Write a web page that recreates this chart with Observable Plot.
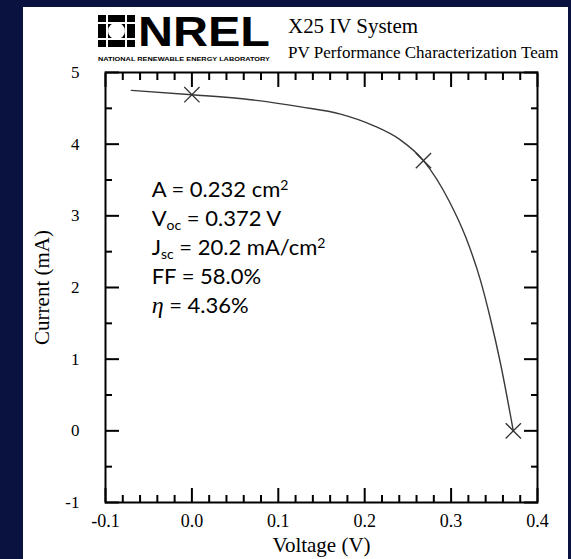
<!DOCTYPE html>
<html><head><meta charset="utf-8">
<script src="https://cdn.jsdelivr.net/npm/d3@7"></script>
<script src="https://cdn.jsdelivr.net/npm/@observablehq/plot@0.6"></script>
<style>
html,body{margin:0;padding:0;background:#0a1340;}
#wrap{position:relative;width:571px;height:559px;overflow:hidden;}
#panel{position:absolute;left:23px;top:7px;width:545px;height:552px;background:#fff;}
#chart{position:absolute;left:0;top:0;}
</style></head><body>
<div id="wrap"><div id="panel"></div><div id="chart"></div></div>
<script>
// I-V curve (Voltage in V, Current in mA)
const voltage = [-0.07, 0.0, 0.068, 0.126, 0.172, 0.21, 0.24, 0.268, 0.298, 0.317, 0.334, 0.346, 0.357, 0.372];
const current = [4.75, 4.69, 4.62, 4.52, 4.42, 4.26, 4.07, 3.77, 3.20, 2.70, 2.10, 1.54, 0.95, 0.0];
// marked points: Isc, max power point, Voc
const markerVoltage = [0.0, 0.268, 0.372];
const markerCurrent = [4.69, 3.77, 0.0];
// ticks
const xMajorTicks = [-0.1, 0.0, 0.1, 0.2, 0.3, 0.4];
const xTickLabels = ["-0.1", "0.0", "0.1", "0.2", "0.3", "0.4"];
const xMinorTicks = [-0.08,-0.06,-0.04,-0.02,0.02,0.04,0.06,0.08,0.12,0.14,0.16,0.18,0.22,0.24,0.26,0.28,0.32,0.34,0.36,0.38];
const yMajorTicks = [-1, 0, 1, 2, 3, 4, 5];
const yTickLabels = ["-1", "0", "1", "2", "3", "4", "5"];
const yMinorTicks = [-0.5, 0.5, 1.5, 2.5, 3.5, 4.5];
// texts
const xLabel = "Voltage (V)";
const yLabel = "Current (mA)";
const titleLine1 = "X25 IV System";
const titleLine2 = "PV Performance Characterization Team";
const logoText = "NREL";
const logoSub = "NATIONAL RENEWABLE ENERGY LABORATORY";
const annotation = [
  [["A = 0.232 cm",""],["2","sup"]],
  [["V",""],["oc","sub"],[" = 0.372 V",""]],
  [["J",""],["sc","sub"],[" = 20.2 mA/cm",""],["2","sup"]],
  [["FF = 58.0%",""]],
  [["η","eta"],[" = 4.36%",""]]
];
const annotationAnchor = {v: -0.046, i: 3.26};

const serif = "'Liberation Serif','Times New Roman',serif";
const curveData = voltage.map((v, k) => ({v, i: current[k]}));
const markerData = markerVoltage.map((v, k) => ({v, i: markerCurrent[k]}));
const xl = d => xTickLabels[xMajorTicks.indexOf(d)];
const yl = d => yTickLabels[yMajorTicks.indexOf(d)];

const plot = Plot.plot({
  width: 571, height: 559,
  marginLeft: 105, marginRight: 34, marginTop: 72, marginBottom: 57,
  style: {background: "transparent", fontFamily: serif, color: "black", overflow: "visible"},
  x: {domain: [-0.1, 0.4]},
  y: {domain: [-1, 5]},
  marks: [
    Plot.line(curveData, {x: "v", y: "i", curve: "monotone-x", stroke: "#3a3a3a", strokeWidth: 1.4}),
    Plot.dot(markerData, {x: "v", y: "i", symbol: "times", r: 7, stroke: "#333", strokeWidth: 1.3}),
    // inward ticks
    Plot.axisX({anchor: "bottom", ticks: xMinorTicks, tickSize: -7, fill: "none", label: null, strokeWidth: 2}),
    Plot.axisX({anchor: "bottom", ticks: xMajorTicks, tickSize: -14, fill: "none", label: null, strokeWidth: 2}),
    Plot.axisX({anchor: "top", ticks: xMinorTicks, tickSize: -7, fill: "none", label: null, strokeWidth: 2}),
    Plot.axisX({anchor: "top", ticks: xMajorTicks, tickSize: -14, fill: "none", label: null, strokeWidth: 2}),
    Plot.axisY({anchor: "left", ticks: yMinorTicks, tickSize: -7, fill: "none", label: null, strokeWidth: 2}),
    Plot.axisY({anchor: "left", ticks: yMajorTicks, tickSize: -14, fill: "none", label: null, strokeWidth: 2}),
    Plot.axisY({anchor: "right", ticks: yMinorTicks, tickSize: -7, fill: "none", label: null, strokeWidth: 2}),
    Plot.axisY({anchor: "right", ticks: yMajorTicks, tickSize: -14, fill: "none", label: null, strokeWidth: 2}),
    // labels
    Plot.axisX({anchor: "bottom", ticks: xMajorTicks, tickSize: 0, tickPadding: 12, tickFormat: xl, fontSize: 18, label: null}),
    Plot.axisY({anchor: "left", ticks: yMajorTicks, tickSize: 0, tickPadding: 26, tickFormat: yl, fontSize: 17, label: null}),
    Plot.text([xLabel], {frameAnchor: "bottom", dy: 43, lineAnchor: "middle", textAnchor: "middle", fontSize: 21, fill: "black"}),
    Plot.text([yLabel], {frameAnchor: "left", dx: -63, rotate: -90, textAnchor: "middle", lineAnchor: "middle", fontSize: 21, fill: "black"}),
    Plot.frame({stroke: "black", strokeWidth: 2})
  ]
});
document.getElementById("chart").appendChild(plot);

const svg = d3.select(plot);
// annotation block
const ax = plot.scale("x").apply(annotationAnchor.v);
const ay = plot.scale("y").apply(annotationAnchor.i);
const ag = svg.append("g").attr("text-anchor", "start")
  .attr("font-family", "Lato, 'Open Sans', sans-serif").attr("font-size", 22).attr("fill", "black");
annotation.forEach((parts, li) => {
  const t = ag.append("text").attr("x", ax).attr("y", ay + li * 29);
  parts.forEach(([s, kind]) => {
    const ts = t.append("tspan").text(s);
    if (kind === "sup") ts.attr("font-size", 14).attr("baseline-shift", "7");
    else if (kind === "sub") ts.attr("font-size", 14).attr("baseline-shift", "-4");
    else if (kind === "eta") ts.attr("font-family", serif).attr("font-style", "italic").attr("font-size", 24);
  });
});

// header: logo + title
const hg = svg.append("g").attr("text-anchor", "start").attr("fill", "black");
hg.append("rect").attr("x", 98).attr("y", 15).attr("width", 37).attr("height", 32).attr("fill", "black");
hg.append("circle").attr("cx", 116.5).attr("cy", 31).attr("r", 8.5).attr("fill", "white");
[107, 126].forEach(x => hg.append("rect").attr("x", x - 1).attr("y", 15).attr("width", 2).attr("height", 32).attr("fill", "white"));
[23, 39].forEach(y => hg.append("rect").attr("x", 98).attr("y", y - 1).attr("width", 37).attr("height", 2).attr("fill", "white"));
hg.append("text").attr("x", 138).attr("y", 46).attr("font-family", "'Liberation Sans', Arial, sans-serif").attr("font-weight", "bold")
  .attr("font-size", 43).attr("textLength", 132).attr("lengthAdjust", "spacingAndGlyphs").text(logoText);
hg.append("text").attr("x", 98).attr("y", 61).attr("font-family", "'Liberation Sans', Arial, sans-serif").attr("font-weight", "bold")
  .attr("font-size", 6).attr("textLength", 172).attr("lengthAdjust", "spacingAndGlyphs").text(logoSub);
hg.append("text").attr("x", 288).attr("y", 33).attr("font-family", serif).attr("font-size", 20)
  .attr("textLength", 130).attr("lengthAdjust", "spacingAndGlyphs").text(titleLine1);
hg.append("text").attr("x", 288).attr("y", 58).attr("font-family", serif).attr("font-size", 17)
  .text(titleLine2);
</script>
</body></html>
